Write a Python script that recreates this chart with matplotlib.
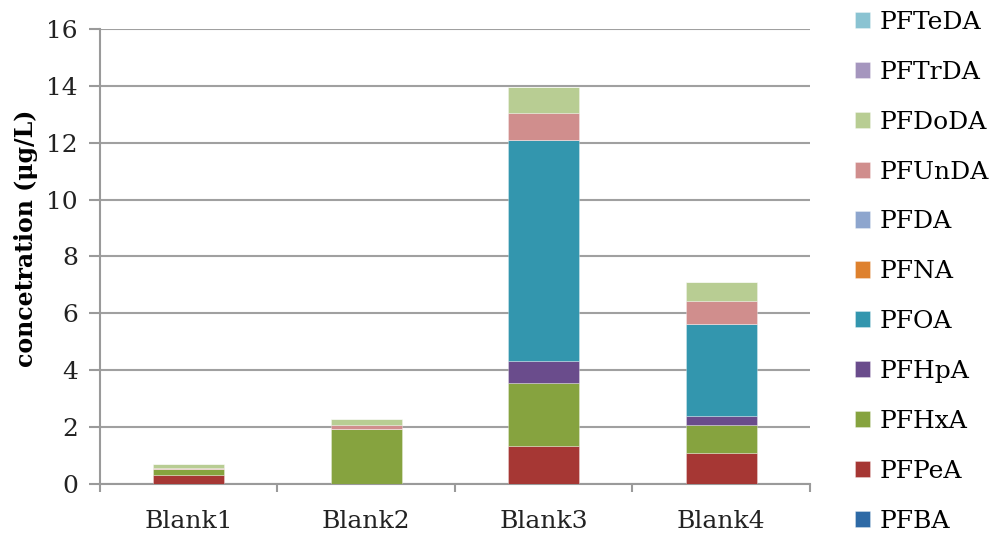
import matplotlib

matplotlib.use("Agg")
import matplotlib.pyplot as plt
import numpy as np

categories = ["Blank1", "Blank2", "Blank3", "Blank4"]
series_names = ["PFBA", "PFPeA", "PFHxA", "PFHpA", "PFOA", "PFNA",
                "PFDA", "PFUnDA", "PFDoDA", "PFTrDA", "PFTeDA"]
pfba = [0.0, 0.0, 0.0, 0.0]
pfpea = [0.33, 0.0, 1.35, 1.08]
pfhxa = [0.20, 1.95, 2.20, 0.98]
pfhpa = [0.0, 0.0, 0.79, 0.34]
pfoa = [0.0, 0.0, 7.76, 3.21]
pfna = [0.0, 0.0, 0.0, 0.0]
pfda = [0.0, 0.0, 0.0, 0.0]
pfunda = [0.02, 0.12, 0.95, 0.82]
pfdoda = [0.14, 0.22, 0.90, 0.66]
pftrda = [0.0, 0.0, 0.0, 0.0]
pfteda = [0.0, 0.0, 0.0, 0.0]
values = [pfba, pfpea, pfhxa, pfhpa, pfoa, pfna, pfda, pfunda, pfdoda, pftrda, pfteda]
colors = ["#2E6AA6", "#A63734", "#86A33F", "#6A4C8C", "#3396AE", "#DE812E",
          "#8EA6CE", "#D08E8D", "#B8CD93", "#A596BE", "#8AC3D2"]

plt.rcParams["font.family"] = ["DejaVu Serif"]

fig = plt.figure(figsize=(9.93, 5.36), dpi=100)
ax = fig.add_axes([0.1007, 0.097, 0.715, 0.849])

x = np.arange(len(categories))
bottom = np.zeros(len(categories))
handles = []
for name, vals, color in zip(series_names, values, colors):
    bars = ax.bar(x, vals, width=0.4, bottom=bottom, color=color,
                  edgecolor=(1, 1, 1, 0.35), linewidth=0.6, label=name, zorder=3)
    handles.append(bars)
    bottom += np.array(vals)

ax.set_xlim(-0.5, len(categories) - 0.5)
ax.set_ylim(0, 16)
ax.set_yticks(np.arange(0, 17, 2))
ax.set_xticks(x)
ax.set_xticklabels(categories)
ax.set_xticks(np.arange(-0.5, len(categories)), minor=True)
ax.tick_params(axis="x", which="major", length=0, labelsize=18, pad=19, colors="#222222")
ax.tick_params(axis="x", which="minor", length=6, width=1.5, color="#9A9A9A")
ax.tick_params(axis="y", length=8, width=1.5, color="#9A9A9A", labelsize=18, pad=8,
               labelcolor="#222222")
ax.grid(axis="y", color="#A0A0A0", linewidth=1.5, zorder=0)
ax.set_axisbelow(True)
for side in ["top", "right"]:
    ax.spines[side].set_visible(False)
for side in ["left", "bottom"]:
    ax.spines[side].set_color("#9A9A9A")
    ax.spines[side].set_linewidth(1.5)
ax.set_ylabel("concetration (μg/L)", fontsize=17, fontweight="bold")
ax.yaxis.set_label_coords(-0.087, 0.54)

fig.legend(handles[::-1], series_names[::-1], loc="upper left",
           bbox_to_anchor=(0.848, 1.003), frameon=False, fontsize=18,
           handlelength=0.62, handleheight=0.62, handletextpad=0.4,
           labelspacing=1.075, borderaxespad=0.1)

fig.savefig("out.png", dpi=100)
plt.close(fig)
